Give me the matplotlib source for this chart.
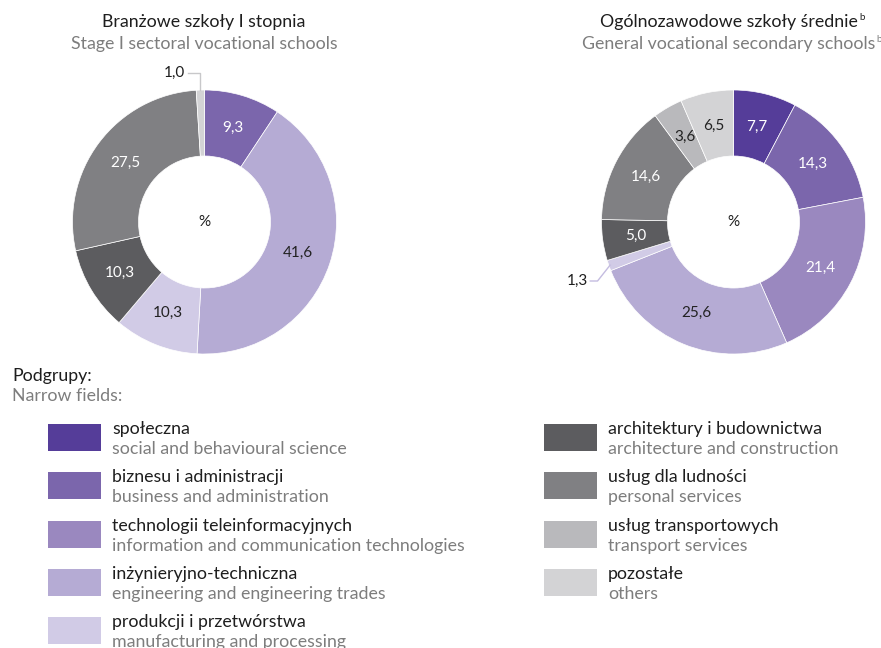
import matplotlib
matplotlib.use("Agg")
import matplotlib.pyplot as plt
import numpy as np
from matplotlib.patches import Rectangle

plt.rcParams['font.family'] = ['Lato', 'DejaVu Sans']

W, H = 881, 648

# ---------------- data ----------------
categories_pl = ["społeczna", "biznesu i administracji", "technologii teleinformacyjnych",
                 "inżynieryjno-techniczna", "produkcji i przetwórstwa",
                 "architektury i budownictwa", "usług dla ludności",
                 "usług transportowych", "pozostałe"]
categories_en = ["social and behavioural science", "business and administration",
                 "information and communication technologies",
                 "engineering and engineering trades", "manufacturing and processing",
                 "architecture and construction", "personal services",
                 "transport services", "others"]
left_values = [None, 9.3, None, 41.6, 10.3, 10.3, 27.5, None, 1.0]
right_values = [7.7, 14.3, 21.4, 25.6, 1.3, 5.0, 14.6, 3.6, 6.5]
left_title = ("Branżowe szkoły I stopnia", "Stage I sectoral vocational schools")
right_title = ("Ogólnozawodowe szkoły średnie", "General vocational secondary schools")

# ---------------- style ----------------
colors = ["#553d99", "#7b66ac", "#9a88bf", "#b5abd4", "#d1cbe6",
          "#5c5c5f", "#808083", "#b9b9bc", "#d3d3d5"]
label_colors = ["white", "white", "white", "#222222", "#222222",
                "white", "white", "#222222", "#222222"]
DARK = "#1e1e1e"
GRAY = "#7d7d7d"
FS = 12.8
LFS = 11

fig = plt.figure(figsize=(W / 100, H / 100), dpi=100)


def fx(x):
    return x / W


def fy(y):
    return 1 - y / H


R = 132


def donut(cx, cy, values, external):
    ax = fig.add_axes([fx(cx - R), fy(cy + R), 2 * R / W, 2 * R / H])
    idx = [i for i, v in enumerate(values) if v is not None]
    vals = [values[i] for i in idx]
    wedges, _ = ax.pie(vals, colors=[colors[i] for i in idx], startangle=90,
                       counterclock=False, radius=1,
                       wedgeprops=dict(width=0.5, edgecolor="white", linewidth=0.5))
    for w, i, v in zip(wedges, idx, vals):
        if i in external:
            continue
        th = np.deg2rad((w.theta1 + w.theta2) / 2)
        ax.text(0.745 * np.cos(th), 0.745 * np.sin(th), f"{v:.1f}".replace(".", ","),
                ha="center", va="center", fontsize=LFS, color=label_colors[i])
    ax.text(0, 0, "%", ha="center", va="center", fontsize=LFS, color=DARK)
    ax.set_xlim(-1, 1)
    ax.set_ylim(-1, 1)
    ax.set_aspect("equal")
    ax.axis("off")
    return ax, dict(zip(idx, wedges))


# left donut
axL, wL = donut(204.5, 222, left_values, external={8})
w = wL[8]
th = np.deg2rad((w.theta1 + w.theta2) / 2)
x0 = np.cos(th) * 1.0
axL.plot([x0, x0, -0.125], [1.0, 1.13, 1.13], color="#c8c8ca", lw=1, clip_on=False)
axL.text(-0.145, 1.13, f"{left_values[8]:.1f}".replace(".", ","), ha="right",
         va="center", fontsize=LFS, color=DARK, clip_on=False)

# right donut
axR, wR = donut(733.5, 222, right_values, external={4})
w = wR[4]
th = np.deg2rad((w.theta1 + w.theta2) / 2)
x0, y0 = np.cos(th) * 0.99, np.sin(th) * 0.99
axR.plot([x0, -1.03, -1.085], [y0, -0.447, -0.447], color="#c4bce0", lw=1, clip_on=False)
axR.text(-1.105, -0.447, f"{right_values[4]:.1f}".replace(".", ","), ha="right",
         va="center", fontsize=LFS, color=DARK, clip_on=False)

# titles
fig.canvas.draw()
r = fig.canvas.get_renderer()


def title(cx, t, sup):
    t1 = fig.text(fx(cx), fy(22), t[0], ha="center", va="center", fontsize=FS, color=DARK)
    t2 = fig.text(fx(cx), fy(44), t[1], ha="center", va="center", fontsize=FS, color=GRAY)
    if sup:
        for tt, col in ((t1, DARK), (t2, GRAY)):
            bb = tt.get_window_extent(renderer=r)
            fig.text((bb.x1 + 1) / W, (bb.y1 + 1) / H, "b", ha="left", va="top",
                     fontsize=7, color=col)


title(204, left_title, False)
title(729, right_title, True)

# legend header
fig.text(fx(12), fy(376), "Podgrupy:", ha="left", va="center", fontsize=FS, color=DARK)
fig.text(fx(12), fy(396), "Narrow fields:", ha="left", va="center", fontsize=FS, color=GRAY)

left_rows = [437, 485, 534, 582, 630]
right_rows = [437, 485, 534, 582]
for k in range(9):
    if k < 5:
        sx, cy = 48, left_rows[k]
    else:
        sx, cy = 544, right_rows[k - 5]
    fig.patches.append(Rectangle((fx(sx), fy(cy + 13.5)), 53 / W, 27 / H,
                                 transform=fig.transFigure, facecolor=colors[k],
                                 edgecolor="none"))
    fig.text(fx(sx + 64), fy(cy - 8), categories_pl[k], ha="left", va="center",
             fontsize=FS, color=DARK)
    fig.text(fx(sx + 64), fy(cy + 12), categories_en[k], ha="left", va="center",
             fontsize=FS, color=GRAY)

fig.savefig("out.png", dpi=100)
